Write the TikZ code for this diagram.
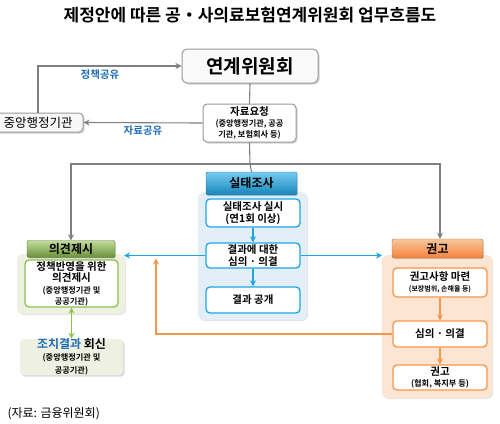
\documentclass[tikz,border=0pt]{standalone}
\usepackage{fontspec}
\setmainfont{Noto Sans CJK KR}[BoldFont={Noto Sans CJK KR Bold}]
\usetikzlibrary{shadows,arrows.meta}
\definecolor{cblue}{HTML}{1BA6E6}
\definecolor{lblue}{HTML}{1F6DB5}
\definecolor{cgreen}{HTML}{8DC04C}
\definecolor{corange}{HTML}{F3984A}
\definecolor{cgray}{HTML}{7F7F7F}
\definecolor{pblue}{HTML}{E3EEF6}
\definecolor{pgreen}{HTML}{EEF0E2}
\definecolor{porange}{HTML}{FCE5D3}
\tikzset{
  bx/.style={rounded corners=4pt, align=center, inner sep=0pt, font=\bfseries\fontsize{10.5}{12.5}\selectfont},
  graybox/.style={bx, draw=cgray!80, line width=1pt, fill=white,
    drop shadow={shadow xshift=1.5pt, shadow yshift=-1.5pt, opacity=0.35}},
  bluebox/.style={bx, draw=cblue, line width=1.3pt, fill=white},
  greenbox/.style={bx, draw=cgreen, line width=1.3pt, fill=white},
  orangebox/.style={bx, draw=corange, line width=1.3pt, fill=white},
  panel/.style={rounded corners=6pt, inner sep=0pt},
  hdr/.style={rounded corners=2pt, inner sep=0pt, font=\bfseries\fontsize{12}{14}\selectfont,
    drop shadow={shadow xshift=1pt, shadow yshift=-1pt, opacity=0.3}},
  garrow/.style={draw=cgray, line width=1.1pt, -{Stealth[length=6pt,width=6pt]}},
  gline/.style={draw=cgray, line width=1.1pt},
  barrow/.style={draw=cblue, line width=1.2pt, -{Stealth[length=6pt,width=6pt]}},
  oarrow/.style={draw=corange, line width=1.2pt, -{Stealth[length=6pt,width=6pt]}},
  grarrow/.style={draw=cgreen, line width=1.5pt, {Stealth[length=6pt,width=6pt]}-{Stealth[length=6pt,width=6pt]}},
  lbl/.style={text=lblue, font=\bfseries\fontsize{10.5}{12}\selectfont}
}
\newcommand{\smtxt}[1]{{\fontsize{8.2}{10}\selectfont #1}}
\begin{document}
\begin{tikzpicture}[x=1pt,y=-1pt]
\useasboundingbox (0,0) rectangle (500,423);
% title
\node[font=\bfseries\fontsize{17}{20}\selectfont] (title) at (250,15) {제정안에 따른 공・사의료보험연계위원회 업무흐름도};
% top boxes
\node[graybox, rounded corners=5pt, fill=gray!4, minimum width=136pt, minimum height=34pt, font=\bfseries\fontsize{19}{22}\selectfont] (yeon) at (250,66) {연계위원회};
\node[graybox, fill=gray!6, minimum width=90pt, minimum height=19pt, font=\fontsize{12.5}{14}\selectfont] (jungang) at (38,122.5) {중앙행정기관};
\node[graybox, minimum width=93pt, minimum height=38pt] (jaryo) at (249.5,123) {자료요청\\[-1.5pt]\smtxt{(중앙행정기관, 공공}\\[-1pt]\smtxt{기관, 보험회사 등)}};
% panels
\node[panel, fill=pblue, minimum width=109pt, minimum height=128pt, drop shadow={shadow xshift=1pt, shadow yshift=-1pt, opacity=0.2}] (spanel) at (252.5,256) {};
\node[panel, fill=pgreen, minimum width=108pt, minimum height=60pt, drop shadow={shadow xshift=1pt, shadow yshift=-1pt, opacity=0.2}] (opanel) at (71,284) {};
\node[panel, fill=porange, minimum width=110pt, minimum height=143pt, drop shadow={shadow xshift=1pt, shadow yshift=-1pt, opacity=0.2}] (gpanel) at (437,326.5) {};
% headers
\node[hdr, draw=cblue!70!black, top color=cblue!60!white, bottom color=cblue!80!black, minimum width=91pt, minimum height=23pt] (shead) at (251.5,183.5) {실태조사};
\node[hdr, draw=cgreen!60!black, top color=cgreen!55!white, bottom color=cgreen!75!black, minimum width=88pt, minimum height=17pt] (ohead) at (71,249) {의견제시};
\node[hdr, draw=corange!70!black, top color=corange!55!white, bottom color=corange!85!red, minimum width=91pt, minimum height=19pt] (ghead) at (437.5,248.5) {권고};
% silt boxes
\node[bluebox, minimum width=94pt, minimum height=28pt] (s1) at (253,213) {실태조사 실시\\[-1pt](연1회 이상)};
\node[bluebox, minimum width=94pt, minimum height=25pt] (s2) at (253,255.5) {결과에 대한\\[-1pt]심의 · 의결};
\node[bluebox, minimum width=94pt, minimum height=26pt] (s3) at (253,300) {결과 공개};
% opinion boxes
\node[greenbox, minimum width=93pt, minimum height=47pt] (o1) at (71.5,283.5) {정책반영을 위한\\[-1pt]의견제시\\[-1pt]\smtxt{(중앙행정기관 및}\\[-1.5pt]\smtxt{공공기관)}};
\node[bx, fill=pgreen, minimum width=103pt, minimum height=36pt, drop shadow={shadow xshift=1.5pt, shadow yshift=-1.5pt, opacity=0.3}, font=\bfseries\fontsize{12}{14}\selectfont] (jochi) at (71.5,357) {\textcolor{lblue}{조치결과} 회신\\[-2pt]\smtxt{(중앙행정기관 및}\\[-1.5pt]\smtxt{공공기관)}};
% gwongo boxes
\node[orangebox, minimum width=94pt, minimum height=29pt] (g1) at (440,282.5) {권고사항 마련\\[-1pt]{\fontsize{7}{8.5}\selectfont (보장범위, 손해율 등)}};
\node[orangebox, minimum width=94pt, minimum height=26pt] (g2) at (440,334) {심의 · 의결};
\node[orangebox, minimum width=94pt, minimum height=25pt] (g3) at (440,377.5) {권고\\[-1.5pt]\smtxt{(협회, 복지부 등)}};
% coordinates
\coordinate (hub) at (250,164);
\coordinate (bl) at (124,255.5);
\coordinate (br) at (382,255.5);
\coordinate (oc) at (156,334);
\coordinate (ot) at (156,258.5);
% gray connectors
\draw[gline] (yeon.south) -- (jaryo.north);
\draw[gline] (jaryo.south) -- (hub) -- (shead.north);
\draw[garrow] (hub) -| (ohead.north);
\draw[garrow] (hub) -| ([xshift=2.5pt]ghead.north);
\draw[garrow] (jungang.north) |- (yeon.west);
\draw[garrow] (jaryo.west) -- (jungang.east);
\node[lbl] (l1) at (100,75) {정책공유};
\node[lbl] (l2) at (143,131) {자료공유};
% blue connectors
\draw[barrow] (s1.south) -- (s2.north);
\draw[barrow] (s2.south) -- (s3.north);
\draw[barrow] (s2.west) -- (bl);
\draw[barrow] (s2.east) -- (br);
% orange connectors
\draw[oarrow] (g1.south) -- (g2.north);
\draw[oarrow] (g2.south) -- (g3.north);
\draw[oarrow] (g2.west) -- (oc) -- (ot);
% green
\draw[grarrow] (o1.south) -- (jochi.north);
% footnote
\node[anchor=west, font=\fontsize{12}{14}\selectfont] (src) at (4,414) {(자료: 금융위원회)};
\end{tikzpicture}
\end{document}
